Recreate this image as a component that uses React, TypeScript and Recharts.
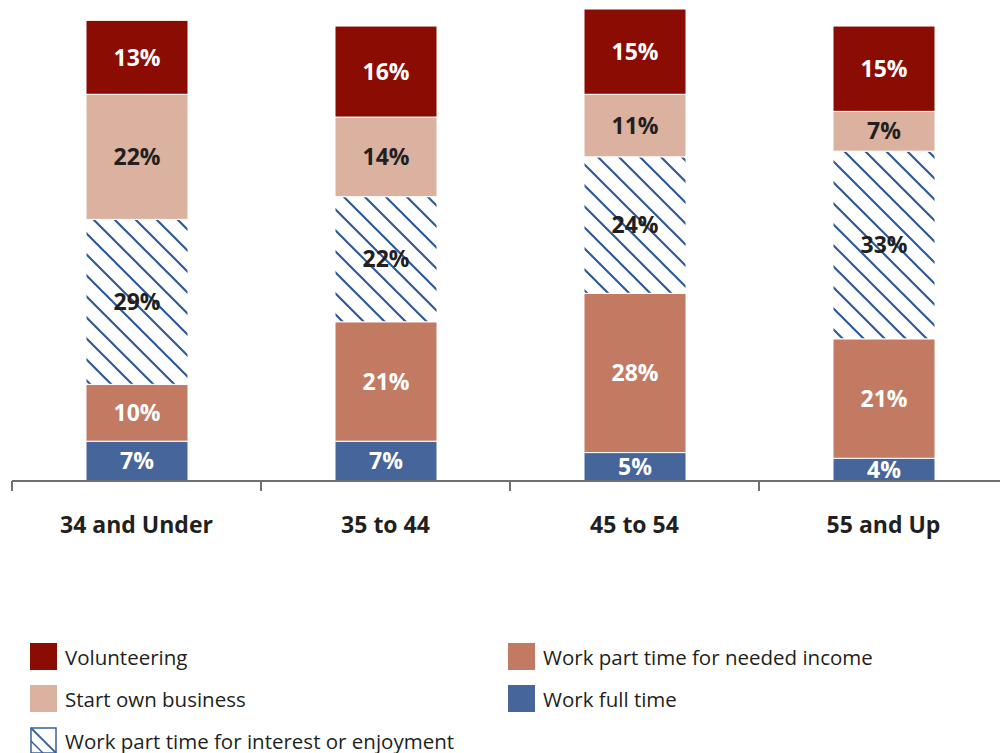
import { Bar, BarChart, LabelList, XAxis, YAxis } from "recharts"

const categories = ["34 and Under", "35 to 44", "45 to 54", "55 and Up"]
const workFullTime = [7, 7, 5, 4]
const partTimeIncome = [10, 21, 28, 21]
const partTimeInterest = [29, 22, 24, 33]
const ownBusiness = [22, 14, 11, 7]
const volunteering = [13, 16, 15, 15]

const data = categories.map((name, i) => ({
    name,
    fullTime: workFullTime[i],
    income: partTimeIncome[i],
    interest: partTimeInterest[i],
    business: ownBusiness[i],
    volunteer: volunteering[i],
}))

const FONT = "'Open Sans', 'Noto Sans', sans-serif"

// bottom to top in the stack
const series = [
    { key: "fullTime", name: "Work full time", fill: "#46659b", label: "#ffffff" },
    { key: "income", name: "Work part time for needed income", fill: "#c27a62", label: "#ffffff" },
    { key: "interest", name: "Work part time for interest or enjoyment", fill: "url(#hatch)", label: "#231f20" },
    { key: "business", name: "Start own business", fill: "#dab29f", label: "#231f20" },
    { key: "volunteer", name: "Volunteering", fill: "#8a0c02", label: "#ffffff" },
]

const legendCols = [
    ["volunteer", "business", "interest"],
    ["income", "fullTime"],
]

function AxisTick(props: any) {
    const { x, y, payload, index } = props
    const half = payload?.offset ?? 0
    const last = index === categories.length - 1
    return (
        <g>
            <line x1={x - half} x2={x - half} y1={y} y2={y + 10} stroke="#707070" strokeWidth={2} />
            {last && <line x1={x + half} x2={x + half} y1={y} y2={y + 10} stroke="#707070" strokeWidth={2} />}
            <text
                x={x}
                y={y + 52}
                textAnchor="middle"
                fill="#231f20"
                fontFamily={FONT}
                fontWeight={700}
                fontSize={23}
            >
                {payload.value}
            </text>
        </g>
    )
}

function Swatch({ fill }: { fill: string }) {
    if (fill.startsWith("url")) {
        return (
            <svg width={27} height={27} style={{ display: "block" }}>
                <rect x={1} y={1} width={25} height={25} fill="#fff" stroke="#35629c" strokeWidth={1.5} />
                <path d="M1,1 L26,26" stroke="#35629c" strokeWidth={1.8} />
                <path d="M1,14 L13,26" stroke="#35629c" strokeWidth={1.5} />
            </svg>
        )
    }
    return <div style={{ width: 27, height: 27, background: fill }} />
}

export default function App() {
    return (
        <div style={{ position: "absolute", left: 0, top: 0, width: 1000, height: 753, background: "#fff", overflow: "hidden" }}>
            <BarChart
                width={1010}
                height={560}
                data={data}
                margin={{ top: 9, right: 2, left: 12, bottom: 0 }}
                barSize={102}
            >
                <defs>
                    <pattern id="hatch" patternUnits="userSpaceOnUse" width={21} height={21}>
                        <rect width={21} height={21} fill="#ffffff" />
                        <path d="M0,0 L21,21 M-6,15 L6,27 M15,-6 L27,6" stroke="#2f5c98" strokeWidth={2.2} />
                    </pattern>
                </defs>
                <YAxis hide domain={[0, 83]} />
                <XAxis
                    dataKey="name"
                    height={79}
                    tickSize={0}
                    tickMargin={0}
                    tickLine={false}
                    axisLine={{ stroke: "#707070", strokeWidth: 2 }}
                    tick={(p: any) => <AxisTick {...p} />}
                    interval={0}
                />
                {series.map((s) => (
                    <Bar
                        key={s.key}
                        dataKey={s.key}
                        name={s.name}
                        stackId="a"
                        fill={s.fill}
                        stroke="#ffffff"
                        strokeWidth={1}
                        isAnimationActive={false}
                    >
                        <LabelList
                            dataKey={s.key}
                            position="center"
                            formatter={(v: any) => `${v}%`}
                            fill={s.label}
                            fontFamily={FONT}
                            fontWeight={700}
                            fontSize={23}
                        />
                    </Bar>
                ))}
            </BarChart>
            {legendCols.map((col, ci) => (
                <div key={ci} style={{ position: "absolute", left: ci === 0 ? 30 : 508, top: 643 }}>
                    {col.map((k) => {
                        const s = series.find((x) => x.key === k)!
                        return (
                            <div key={k} style={{ display: "flex", alignItems: "center", height: 27, marginBottom: 15 }}>
                                <Swatch fill={s.fill} />
                                <span style={{ marginLeft: 8, fontFamily: FONT, fontSize: 20.5, color: "#231f20" }}>{s.name}</span>
                            </div>
                        )
                    })}
                </div>
            ))}
        </div>
    )
}
